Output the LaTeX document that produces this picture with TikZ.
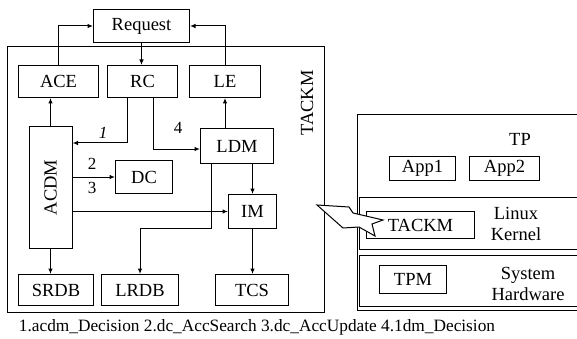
\documentclass[tikz,border=0pt]{standalone}
\usepackage{fontspec}
\setmainfont{Liberation Serif}
\usetikzlibrary{arrows.meta}
\begin{document}
\begin{tikzpicture}[x=1pt,y=-1pt,
  box/.style={draw, line width=1pt, inner sep=0pt, anchor=north west, font=\fontsize{18.5}{20}\selectfont},
  lbl/.style={inner sep=0pt, font=\fontsize{18.5}{20}\selectfont},
  arr/.style={line width=1pt, -{Latex[length=5.5pt,width=4.5pt]}},
  frame/.style={line width=1pt}]
\useasboundingbox (0,0) rectangle (577,339);
% outer TACKM frame
\draw[frame] (7,47) rectangle (324,312);
\node[lbl, rotate=90] (tackmlbl) at (307,103) {TACKM};
% boxes
\node[box, minimum width=96pt, minimum height=33pt] (req) at (93,9) {Request};
\node[box, minimum width=80pt, minimum height=32pt] (ace) at (18,65) {ACE};
\node[box, minimum width=70pt, minimum height=32pt] (rc) at (107,65) {RC};
\node[box, minimum width=71pt, minimum height=32pt] (le) at (189,65) {LE};
\node[draw, line width=1pt, minimum width=43pt, minimum height=121pt, inner sep=0pt] (acdm) at (50.5,187.5) {};
\node[lbl, rotate=90] (acdmlbl) at (acdm.center) {ACDM};
\node[box, minimum width=73pt, minimum height=35pt] (ldm) at (200,128) {LDM};
\node[box, minimum width=57pt, minimum height=33pt] (dc) at (115,160) {DC};
\node[box, minimum width=48pt, minimum height=34pt] (im) at (228,194) {IM};
\node[box, minimum width=75pt, minimum height=31pt] (srdb) at (18,274) {SRDB};
\node[box, minimum width=77pt, minimum height=31pt] (lrdb) at (101,274) {LRDB};
\node[box, minimum width=73pt, minimum height=31pt] (tcs) at (215,274) {TCS};
% connectors
\coordinate (c1) at (0,143);
\draw[arr] (ace.north) |- (req.west);
\draw[arr] (le.north) |- (req.east);
\draw[arr] (req.south) -- (req.south |- rc.north);
\draw[arr] (acdm.north) -- (acdm.north |- ace.south);
\draw[arr] ([xshift=-15pt]rc.south) |- (c1 -| acdm.east);
\draw[arr] ([xshift=11pt]rc.south) |- ([yshift=-3pt]ldm.west);
\draw[arr] (le.south |- ldm.north) -- (le.south);
\draw[arr] (acdm.east |- dc.west) -- (dc.west);
\draw[arr] (acdm.east |- im.west) -- (im.west);
\draw[arr] (im.north |- ldm.south) -- (im.north);
\draw[arr] ([xshift=-25.5pt]ldm.south) -- ++(0,64) -| (lrdb.north);
\draw[arr] (im.south) -- (im.south |- tcs.north);
\draw[arr] (acdm.south) -- (acdm.south |- srdb.north);
\node[lbl, font=\fontsize{17}{18}\selectfont\itshape] (n1) at (103,133) {1};
\node[lbl, font=\fontsize{17}{18}\selectfont] (n4) at (178,128) {4};
\node[lbl, font=\fontsize{17}{18}\selectfont] (n2) at (92,164) {2};
\node[lbl, font=\fontsize{17}{18}\selectfont] (n3) at (92,188) {3};
% TP platform
\draw[frame] (357,115) -- (577,115);
\draw[frame] (357,115) -- (357,310) -- (577,310);
\node[lbl] (tp) at (520,139) {TP};
\node[box, minimum width=66pt, minimum height=24pt] (app1) at (389,156) {App1};
\node[box, minimum width=70pt, minimum height=24pt] (app2) at (469,156) {App2};
\draw[frame] (577,197) -- (359.5,197) -- (359.5,249) -- (577,249);
\draw[frame] (577,255) -- (359.5,255) -- (359.5,306) -- (577,306);
\node[box, minimum width=108pt, minimum height=27pt] (tackm2) at (366,211) {TACKM};
\node[lbl, align=center, font=\fontsize{18.5}{21}\selectfont] (lk) at (516,224) {Linux\\Kernel};
\node[lbl, align=center, font=\fontsize{18.5}{21}\selectfont] (sh) at (528,284) {System\\Hardware};
\node[box, minimum width=67pt, minimum height=28pt] (tpm) at (379,265) {TPM};
% hollow lightning arrow
\draw[line width=1pt, fill=white, line join=miter]
  (317,205) -- (349,207) -- (353,213) -- (383,220) -- (372,224) -- (375,236)
  -- (359,227) -- (343,228) -- cycle;
% caption
\node[lbl, font=\fontsize{17.3}{19}\selectfont] (cap) at (257,327) {1.acdm\_Decision 2.dc\_AccSearch 3.dc\_AccUpdate 4.1dm\_Decision};
\end{tikzpicture}
\end{document}
